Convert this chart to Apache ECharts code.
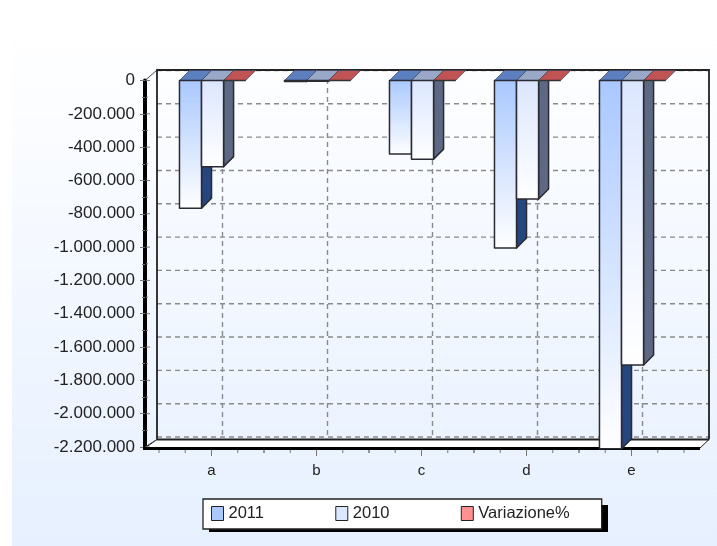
<!DOCTYPE html>
<html><head><meta charset="utf-8">
<script src="https://cdn.jsdelivr.net/npm/echarts@6/dist/echarts.min.js"></script>
<style>html,body{margin:0;padding:0;background:#fff}#c{width:717px;height:546px}</style>
</head><body><div id="c"></div>
<script>
const categories = ['a','b','c','d','e'];
const values2011 = [-767000,-6000,-441000,-1005000,-2210000];
const values2010 = [-517000,-5000,-472000,-711000,-1708000];
const valuesVar  = [48,20,-7,41,29];
const yTicks = [0,-200000,-400000,-600000,-800000,-1000000,-1200000,-1400000,-1600000,-1800000,-2000000,-2200000];

const DX = 10, DY = -10;
const G = echarts.graphic;
const fmt = v => v === 0 ? '0' : String(v).replace(/\B(?=(\d{3})+(?!\d))/g,'.');

function barRender(idx, front0, side, top){
  return function(params, api){
    const cat = api.value(0), val = api.value(1);
    const p = api.coord([cat,val]), p0 = api.coord([cat,0]);
    const band = api.size([1,0])[0];
    const w = band*0.21;
    const x = p0[0] - band*0.305 + w*idx;
    const y0 = p0[1], y1 = p[1];
    const stroke = {stroke:'#2b2b33',lineWidth:1.5,lineJoin:'round'};
    const kids = [];
    if (y1-y0 > 0.5) {
      kids.push({type:'polygon',shape:{points:[[x+w,y0],[x+w+DX,y0+DY],[x+w+DX,y1+DY],[x+w,y1]]},style:Object.assign({fill:side},stroke)});
    }
    kids.push({type:'polygon',shape:{points:[[x,y0],[x+w,y0],[x+w+DX,y0+DY],[x+DX,y0+DY]]},style:{fill:top,stroke:'#444a60',lineWidth:0.8}});
    if (y1-y0 > 0.5) {
      kids.push({type:'rect',shape:{x:x,y:y0,width:w,height:y1-y0},style:Object.assign({fill:new G.LinearGradient(0,0,0,1,[{offset:0,color:front0},{offset:1,color:'#ffffff'}])},stroke)});
    } else {
      kids.push({type:'line',shape:{x1:x,y1:y0,x2:x+w,y2:y0},style:{stroke:'#333',lineWidth:1.5}});
    }
    return {type:'group',children:kids};
  };
}

function frameRender(params, api){
  const kids = [];
  const y0 = api.coord([0,0])[1], yB = api.coord([0,-2200000])[1];
  const L = 145, R = 700, wL = 157, wR = 709, wT = 70, wB = 439.5;
  const dash = {stroke:'#8a8a8a',lineWidth:1.4,lineDash:[5,4]};
  kids.push({type:'polygon',shape:{points:[[L,yB+1],[R,yB+1],[wR,wB],[wL,wB]]},style:{fill:'#ffffff',stroke:'#222',lineWidth:1}});
  kids.push({type:'line',shape:{x1:L,y1:y0,x2:wL,y2:wT},style:{stroke:'#444',lineWidth:1}});
  kids.push({type:'line',shape:{x1:L,y1:yB,x2:wL,y2:wB},style:{stroke:'#444',lineWidth:1}});
  yTicks.forEach((t,i)=>{
    const yy = api.coord([0,t])[1];
    const y = yy+DY;
    kids.push({type:'line',shape:{x1:wL,y1:y,x2:wR,y2:y},style:dash});
    kids.push({type:'line',shape:{x1:146,y1:yy,x2:150,y2:yy},style:{stroke:'#777',lineWidth:1}});
    if (i<yTicks.length-1) {
      const ym = api.coord([0,t-100000])[1];
      kids.push({type:'line',shape:{x1:146,y1:ym,x2:148,y2:ym},style:{stroke:'#777',lineWidth:1}});
    }
  });
  categories.forEach((c,i)=>{
    const cx = api.coord([i,0])[0];
    const x = cx+11;
    kids.push({type:'line',shape:{x1:x,y1:wT,x2:x,y2:wB},style:dash});
    [-2,-1,1,2].forEach(k=>{
      const tx = cx+k*26.25;
      kids.push({type:'line',shape:{x1:tx,y1:yB+2,x2:tx,y2:yB+6},style:{stroke:'#777',lineWidth:1}});
    });
  });
  kids.push({type:'polyline',shape:{points:[[wL,wB],[wL,wT],[wR,wT],[wR,wB]]},style:{fill:'none',stroke:'#222',lineWidth:1.8}});
  kids.push({type:'line',shape:{x1:wL,y1:wB,x2:wR,y2:wB},style:{stroke:'#222',lineWidth:1.8}});
  kids.push({type:'line',shape:{x1:L-2,y1:yB+1.5,x2:R,y2:yB+1.5},style:{stroke:'#000',lineWidth:3}});
  return {type:'group',children:kids};
}

const pairs = a => a.map((v,i)=>[i,v]);
const font = 'Liberation Sans, Arial, sans-serif';
const chart = echarts.init(document.getElementById('c'),null,{renderer:'canvas'});
chart.setOption({
  animation:false,
  graphic:[
    {type:'rect',z:-10,silent:true,shape:{x:12,y:28,width:705,height:518},
     style:{fill:new G.LinearGradient(0,0,0,1,[{offset:0,color:'#ffffff'},{offset:1,color:'#e6f0ff'}])}},
    {type:'rect',z:-5,silent:true,shape:{x:209,y:505,width:399,height:27},style:{fill:'#000'}}
  ],
  grid:{left:159,top:80.5,width:525,height:366.5,containLabel:false},
  xAxis:{type:'category',data:categories,position:'bottom',
    axisLine:{show:false,onZero:false},
    axisTick:{show:true,alignWithLabel:true,length:9,lineStyle:{color:'#777'}},
    axisLabel:{fontFamily:font,fontSize:15,color:'#222',margin:16},splitLine:{show:false}},
  yAxis:{type:'value',min:-2200000,max:0,interval:200000,offset:14,
    axisLine:{show:true,onZero:false,lineStyle:{color:'#000',width:4}},
    axisTick:{show:true,length:5,lineStyle:{color:'#777'}},
    minorTick:{show:true,splitNumber:2,length:3,lineStyle:{color:'#777'}},
    axisLabel:{fontFamily:font,fontSize:17,color:'#222',margin:10,formatter:fmt},
    splitLine:{show:false}},
  legend:{left:203,top:499,padding:[6,32,7,8],itemWidth:12,itemHeight:14,itemGap:71.3,itemTextGap:6,
    backgroundColor:'#fff',borderColor:'#222',borderWidth:1.3,
    selectedMode:false,
    textStyle:{fontFamily:font,fontSize:16.5,color:'#222'},
    data:[
      {name:'2011',icon:'rect',itemStyle:{color:'#a9c8ff',borderColor:'#222',borderWidth:1}},
      {name:'2010',icon:'rect',itemStyle:{color:'#dbe6ff',borderColor:'#222',borderWidth:1}},
      {name:'Variazione%',icon:'rect',itemStyle:{color:'#ff9090',borderColor:'#222',borderWidth:1}}
    ]},
  series:[
    {type:'custom',name:'frame',z:1,silent:true,renderItem:frameRender,data:[[0,0]],encode:{x:0,y:1},clip:false},
    {type:'custom',name:'2011',z:2,renderItem:barRender(0,'#a9c8ff','#26467f','#5b7fbf'),data:pairs(values2011),encode:{x:0,y:1},clip:false},
    {type:'custom',name:'2010',z:3,renderItem:barRender(1,'#dbe6ff','#5c6884','#9aa8c8'),data:pairs(values2010),encode:{x:0,y:1},clip:false},
    {type:'custom',name:'Variazione%',z:4,renderItem:barRender(2,'#ff9090','#8a3030','#c05454'),data:pairs(valuesVar),encode:{x:0,y:1},clip:false}
  ]
});
</script></body></html>
